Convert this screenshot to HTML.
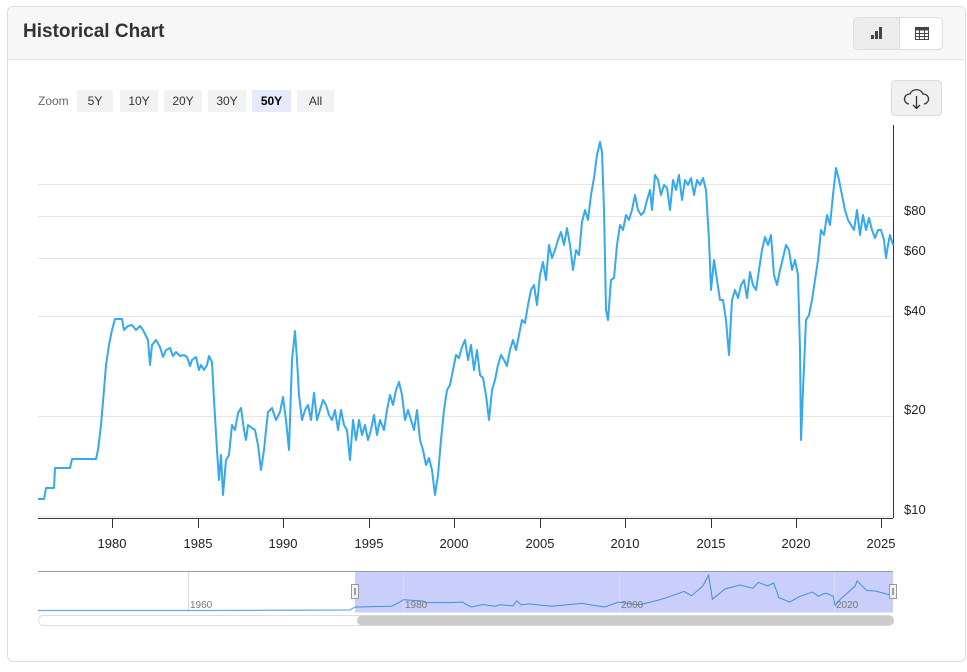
<!DOCTYPE html>
<html><head><meta charset="utf-8"><style>
body{margin:0;width:967px;height:672px;background:#fff;font-family:"Liberation Sans",sans-serif;position:relative;overflow:hidden}
.card{position:absolute;left:7px;top:6px;width:957px;height:654px;border:1px solid #ddd;border-radius:6px;background:#fff}
.hdr{position:absolute;left:8px;top:7px;width:956px;height:52px;background:#f7f7f7;border-bottom:1px solid #e2e2e2;border-radius:6px 6px 0 0}
.title{position:absolute;left:23px;top:21px;font-size:19px;font-weight:bold;color:#333}
.zb{position:absolute;top:90px;height:22px;line-height:22px;font-size:12px;color:#333;background:#f2f2f2;text-align:center}
</style></head><body>
<div class="card"></div><div class="hdr"></div>
<div class="title">Historical Chart</div>
<div style="position:absolute;left:853px;top:17px;width:88px;height:31px;border:1px solid #ddd;border-radius:5px;background:#fff;overflow:hidden">
<div style="position:absolute;left:0;top:0;width:45px;height:31px;background:#ececec;border-right:1px solid #ddd"></div>
<svg style="position:absolute;left:0;top:0" width="88" height="31"><rect x="17" y="17" width="3" height="4" fill="#444"/><rect x="21" y="13" width="3" height="8" fill="#444"/><rect x="25" y="9" width="3" height="12" fill="#444"/>
<rect x="61.5" y="9.5" width="13" height="12" fill="none" stroke="#444"/><rect x="61.5" y="9.5" width="13" height="3" fill="#444"/><path d="M65.5 12v9M70.5 12v9M62 15.5h12M62 18.5h12" stroke="#444"/></svg></div>
<div style="position:absolute;left:38px;top:90px;font-size:12px;color:#666;line-height:22px">Zoom</div>
<div class="zb" style="left:77px;width:36px">5Y</div>
<div class="zb" style="left:120px;width:38px">10Y</div>
<div class="zb" style="left:164px;width:38px">20Y</div>
<div class="zb" style="left:208px;width:38px">30Y</div>
<div class="zb" style="left:252px;width:39px;background:#e6e8fb;font-weight:bold;color:#000">50Y</div>
<div class="zb" style="left:297px;width:37px">All</div>
<div style="position:absolute;left:891px;top:80px;width:49px;height:34px;background:#f0f0f0;border:1px solid #ddd;border-radius:4px"></div>
<svg width="967" height="672" style="position:absolute;left:0;top:0">
<path d="M909 104a5 5 0 0 1 1-10a7 7 0 0 1 13 0a5 5 0 0 1 1 10M916.5 96v12M913 105l3.5 3.5l3.5-3.5" fill="none" stroke="#333" stroke-width="1.3"/>
<g stroke="#e6e6e6" stroke-width="1"><path d="M38 184.5H893M38 216.5H893M38 258.5H893M38 316.5H893M38 416.5H893M38 516.5H893"/></g>
<path d="M893.5 125V518" stroke="#333"/>
<path d="M38 518.5H893" stroke="#333"/>
<g stroke="#333"><path d="M112.5 518v10M198.5 518v10M283.5 518v10M369.5 518v10M454.5 518v10M540.5 518v10M625.5 518v10M711.5 518v10M796.5 518v10M881.5 518v10"/></g>
<g font-size="13" fill="#222" text-anchor="middle"><text x="112" y="548">1980</text><text x="198" y="548">1985</text><text x="283" y="548">1990</text><text x="369" y="548">1995</text><text x="454" y="548">2000</text><text x="540" y="548">2005</text><text x="625" y="548">2010</text><text x="711" y="548">2015</text><text x="796" y="548">2020</text><text x="881" y="548">2025</text></g>
<g font-size="13" fill="#222"><text x="904" y="215">$80</text><text x="904" y="255">$60</text><text x="904" y="315">$40</text><text x="904" y="414">$20</text><text x="904" y="514">$10</text></g>
<path d="M38 499L44 499L46 488L54 488L55 468L70 468L72 459L96 459L98 450L101 425L104 390L106 365L109 345L112 330L115 319L122 319L124 330L128 326L132 325L136 330L140 326L143 330L146 336L148 340L150 365L152 345L156 340L160 347L163 357L166 350L170 348L173 356L176 352L180 356L184 355L187 357L190 366L192 360L196 357L199 370L201 365L204 370L207 365L209 356L212 362L214 400L217 450L219 480L221 455L223 495L226 460L229 455L232 425L235 430L238 413L241 408L244 430L246 440L248 425L252 428L255 430L258 445L261 470L264 450L266 430L268 412L272 408L276 420L280 412L283 397L286 420L289 450L292 360L295 331L297 360L299 395L302 420L305 410L308 405L311 420L314 393L317 420L320 410L323 400L326 405L329 415L332 420L335 410L338 430L341 410L344 425L347 430L350 460L353 420L356 440L359 420L362 435L365 425L368 440L371 430L374 415L377 435L380 420L384 430L387 410L390 395L393 405L396 390L399 382L402 395L405 420L408 410L411 420L414 430L417 410L420 440L423 450L426 465L429 458L432 470L435 495L438 475L441 440L444 410L447 390L450 385L453 370L456 355L459 358L462 347L465 340L468 360L471 345L474 370L477 350L480 375L483 378L486 395L489 420L492 390L495 380L498 365L501 355L504 360L507 366L510 350L513 340L516 350L519 335L522 320L525 323L528 305L531 290L534 285L537 305L540 275L543 262L546 280L549 245L552 258L555 250L558 240L561 232L564 245L567 228L570 245L573 270L576 250L579 255L582 222L585 210L588 220L591 195L594 178L597 155L600 142L602 152L604 210L606 310L608 320L611 280L614 278L617 245L620 225L623 230L626 215L629 220L632 210L635 195L638 210L641 215L644 212L647 200L650 190L652 210L655 175L658 180L661 195L664 185L667 188L670 210L673 180L676 190L679 175L682 200L685 180L688 185L691 178L694 195L697 180L700 185L703 178L706 190L709 240L711 290L714 260L717 280L720 300L723 300L726 320L729 355L732 300L735 290L738 298L741 285L744 280L747 298L750 272L753 285L756 290L759 270L762 250L765 237L768 245L771 235L774 275L777 285L780 270L783 258L786 245L789 250L792 270L795 260L798 275L800 350L801 440L803 390L806 320L809 315L812 300L815 280L818 260L821 230L824 235L827 215L830 225L833 195L836 168L839 180L842 195L845 210L848 220L851 225L854 230L857 210L860 235L863 215L866 230L869 218L872 230L875 238L878 230L881 230L884 240L886 258L888 245L890 235L893 245" fill="none" stroke="#35a8ee" stroke-width="2" stroke-linejoin="round"/>
<rect x="355" y="571.5" width="538" height="41" fill="#c9cffa"/>
<path d="M38 571.5H893" stroke="#999"/>
<g stroke="#dcdcf0"><path d="M188.5 572v40M403.5 572v40M619.5 572v40M834.5 572v40"/></g>
<path d="M38 610.5L210 610.5L350 610L355 607" stroke="#6aa8e8" stroke-width="1.2" fill="none"/>
<path d="M355 607.1L391.5 606.2L396.5 603.8L403.4 599.8L422.9 601L425.5 602.6L450.7 602.6L462.6 602.1L465.7 604.2L471.4 607L482.7 604.5L495.3 606.4L499.7 604.6L512.9 605.9L516.7 600.7L521.1 604.9L528.7 603.9L551.3 606.2L582.1 603.4L595.4 605.6L604.8 607L618 602.1L638.8 604.9L659.5 599.9L670.9 596.2L684.1 591.4L691.6 595.7L702.9 585.9L708.6 575.2L712.4 599.2L715.5 596.7L725 589L740.1 585L752.7 588.3L758.3 582.4L767.8 585.9L773.5 583L777.2 592.4L778.5 597.5L789.8 602.1L799.2 596.7L812.5 592L818.1 596.2L825.7 593L833.2 596.2L835.1 605.6L840.1 599.5L855.2 585.9L857.1 580.9L866.5 590.4L875.9 591.1L888.5 594.5L893 593" fill="none" stroke="#3f8fe0" stroke-width="1"/>
<g font-size="10" fill="#777"><text x="190" y="608">1960</text><text x="405" y="608">1980</text><text x="621" y="608">2000</text><text x="836" y="608">2020</text></g>
<rect x="351.5" y="584.5" width="7" height="14" fill="#f2f2f2" stroke="#999"/><path d="M354.5 588v7M355.5 588v7" stroke="#666" stroke-width=".6"/>
<rect x="889.5" y="584.5" width="7" height="14" fill="#f2f2f2" stroke="#999"/><path d="M892.5 588v7M893.5 588v7" stroke="#666" stroke-width=".6"/>
<rect x="38.5" y="615.5" width="855" height="10" rx="5" fill="#fff" stroke="#ddd"/>
<rect x="357" y="615.5" width="537" height="10" rx="5" fill="#cccccc"/>
</svg>
</body></html>
